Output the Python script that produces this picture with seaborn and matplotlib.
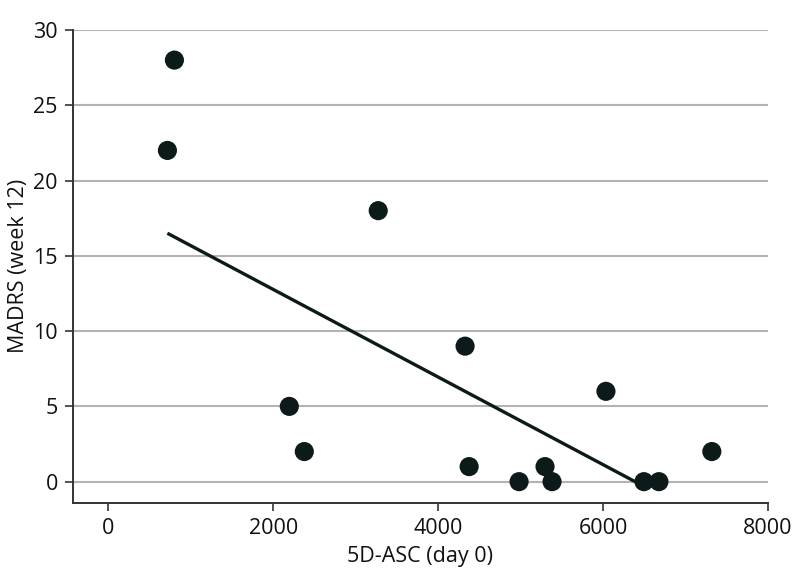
import numpy as np
import pandas as pd
import matplotlib.pyplot as plt
import seaborn as sns

# Values
asc_day0 = [715, 800, 2194, 2376, 3273, 4327, 4376, 4982, 5297, 5382, 6036, 6497, 6679, 7321]
madrs_week12 = [22, 28, 5, 2, 18, 9, 1, 0, 1, 0, 6, 0, 0, 2]

# Fitted line as drawn in the figure (start and end)
fit_x = [715, 6390]
fit_y = [16.5, 0]

x_ticks = [0, 2000, 4000, 6000, 8000]
y_ticks = [0, 5, 10, 15, 20, 25, 30]

df = pd.DataFrame({'asc': asc_day0, 'madrs': madrs_week12})

sns.set_style('white')
plt.rcParams['font.family'] = ['Open Sans', 'DejaVu Sans']

fig, ax = plt.subplots(figsize=(7.94, 5.88), dpi=100)
fig.subplots_adjust(left=0.092, right=0.967, top=0.949, bottom=0.145)

ax.set_axisbelow(True)
for yt in y_ticks:
    ax.axhline(yt, color='#b3b3b3', lw=1.5, zorder=0)

ax.plot(fit_x, fit_y, color='#0c1a1a', lw=2.4, zorder=2, solid_capstyle='butt')
sns.scatterplot(data=df, x='asc', y='madrs', s=190, color='#0c1a1a',
                edgecolor='none', ax=ax, zorder=3)

ax.set_xlim(-430, 8000)
ax.set_ylim(-1.4, 30)
ax.set_xticks(x_ticks)
ax.set_yticks(y_ticks)
ax.tick_params(axis='both', labelsize=15.5, length=6, width=1.2, color='#333333',
               labelcolor='#111111', pad=5, bottom=True, left=True, direction='out')

for side in ['top', 'right']:
    ax.spines[side].set_visible(False)
for side in ['left', 'bottom']:
    ax.spines[side].set_color('#333333')
    ax.spines[side].set_linewidth(1.4)

ax.set_xlabel('5D-ASC (day 0)', fontsize=15.5, labelpad=5, color='#111111')
ax.set_ylabel('MADRS (week 12)', fontsize=15.5, labelpad=3, color='#111111')

fig.savefig('out.png', dpi=100)
